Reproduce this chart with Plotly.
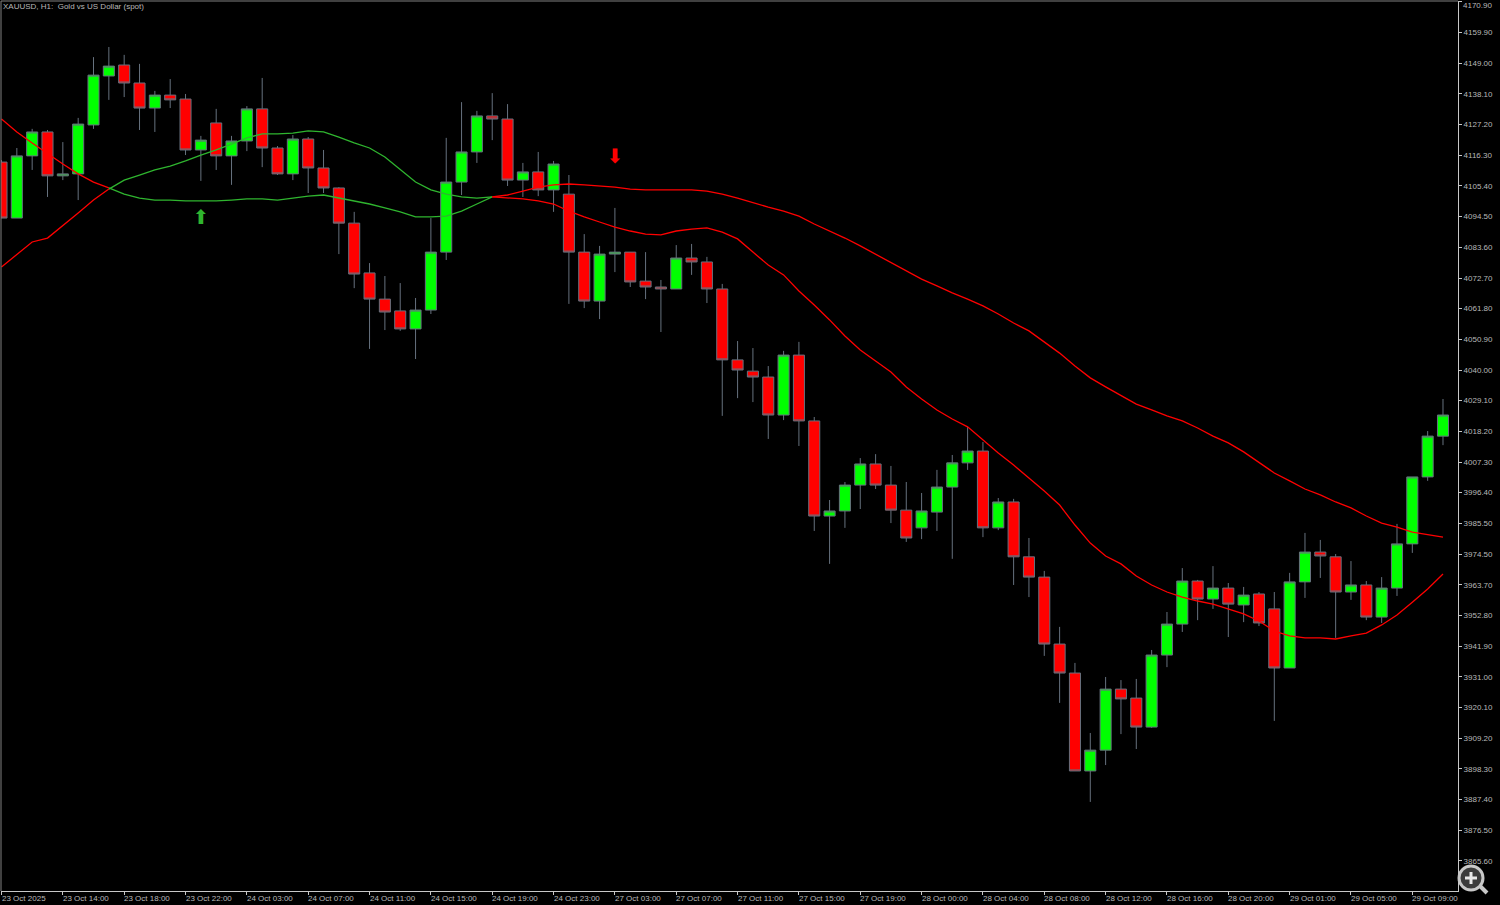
import plotly.graph_objects as go

candle_index = list(range(95))
open_ = [4113.9,4094.0,4116.1,4124.6,4109.0,4109.7,4127.1,4144.5,4148.4,4142.0,4133.1,4137.7,4136.3,4118.2,4127.8,4116.1,4121.4,4132.8,4118.9,4109.7,
4122.1,4111.8,4104.7,4092.2,4074.5,4065.2,4061.0,4054.6,4061.3,4081.9,4106.8,4117.5,4130.3,4129.2,4107.5,4110.4,4104.0,4102.5,4081.9,4064.5,
4081.2,4081.9,4071.6,4069.5,4068.8,4079.8,4078.4,4068.8,4043.6,4039.6,4037.5,4024.0,4045.3,4021.9,3988.1,3989.9,3999.1,4006.6,3999.1,3990.2,
3983.9,3989.5,3998.4,4007.0,4011.2,3983.9,3993.1,3973.6,3966.4,3942.6,3932.3,3897.5,3904.9,3926.6,3923.4,3913.1,3938.7,3949.7,3965.0,3958.6,
3962.5,3956.5,3960.4,3955.1,3934.1,3964.7,3975.3,3973.6,3961.1,3963.6,3952.2,3962.5,3978.2,4002.0,4016.5]
high = [4114.6,4118.9,4125.7,4125.3,4121.0,4129.6,4151.2,4154.8,4152.0,4148.8,4139.2,4143.4,4138.1,4123.2,4132.8,4123.2,4133.8,4143.8,4119.6,4123.5,
4122.8,4118.2,4105.0,4096.2,4078.0,4073.4,4070.9,4065.6,4094.0,4122.5,4135.2,4132.1,4138.4,4134.5,4113.6,4117.5,4114.3,4109.3,4088.3,4084.1,
4097.6,4081.9,4081.9,4072.0,4084.4,4084.8,4080.2,4070.6,4050.3,4047.8,4041.4,4046.8,4050.0,4023.3,3993.8,4000.2,4008.7,4010.1,4005.9,4000.2,
3996.3,4004.5,4009.8,4019.8,4014.4,3994.5,3994.2,3980.3,3968.6,3948.7,3935.9,3911.0,3930.9,3929.8,3930.2,3940.5,3954.0,3969.6,3965.4,3970.3,
3964.3,3962.9,3961.1,3961.1,3967.9,3982.1,3979.6,3974.6,3972.1,3965.0,3966.4,3985.3,4002.0,4018.3,4029.7]
low = [4094.0,4094.0,4111.1,4101.5,4107.5,4100.4,4125.7,4136.0,4137.0,4125.3,4124.6,4133.1,4116.4,4107.2,4111.1,4105.8,4117.8,4112.1,4109.3,4107.5,
4102.9,4102.9,4081.2,4069.1,4047.5,4054.2,4053.9,4043.9,4059.9,4079.1,4102.2,4113.6,4121.7,4105.4,4101.5,4101.8,4096.2,4063.5,4062.0,4058.1,
4074.8,4069.5,4065.2,4053.5,4068.8,4073.8,4063.8,4023.7,4030.0,4028.6,4015.5,4022.2,4013.0,3982.8,3971.1,3983.9,3990.6,3997.7,3985.6,3978.9,
3979.9,3982.8,3972.9,4004.5,3980.6,3983.1,3963.6,3959.3,3938.4,3921.7,3897.5,3886.5,3899.6,3910.6,3905.3,3912.8,3934.4,3946.9,3951.1,3955.1,
3945.1,3950.4,3949.0,3915.3,3934.1,3959.0,3966.1,3944.8,3958.3,3951.1,3950.1,3959.7,3975.0,4000.6,4013.3]
close = [4094.0,4116.1,4124.6,4109.0,4109.7,4127.4,4144.8,4148.0,4142.0,4133.1,4137.7,4136.0,4118.2,4121.7,4116.1,4121.4,4132.8,4118.9,4109.7,4122.1,
4111.8,4104.7,4092.2,4074.1,4065.2,4060.6,4054.6,4061.3,4081.9,4106.8,4117.5,4130.3,4129.2,4107.5,4110.4,4104.0,4113.2,4081.9,4064.5,4081.2,
4081.9,4071.3,4069.5,4068.8,4079.8,4078.4,4068.8,4043.6,4040.0,4037.5,4024.0,4045.3,4021.9,3988.1,3989.9,3999.1,4006.6,3999.1,3990.2,3980.3,
3989.9,3998.4,4007.0,4011.2,3983.9,3993.1,3973.6,3966.4,3942.6,3932.3,3897.5,3904.9,3926.6,3923.1,3913.1,3938.7,3949.7,3965.0,3958.6,3962.5,
3956.8,3960.0,3950.1,3934.1,3964.7,3975.3,3973.9,3961.1,3963.6,3952.2,3962.5,3978.2,4002.0,4016.5,4024.0]

ma_a = [4129.2,4124.6,4120.7,4116.8,4113.2,4109.7,4106.8,4104.7,4102.5,4101.1,4100.4,4100.4,4100.1,4100.1,4100.1,4100.4,4100.8,4100.8,4100.4,4101.1,
4101.8,4102.2,4101.1,4100.1,4099.0,4097.6,4096.2,4094.4,4094.4,4094.7,4096.5,4099.0,4101.5,4102.2,4103.6,4105.0,4105.8,4106.1,4105.8,4105.4,
4105.0,4104.3,4104.0,4104.0,4104.0,4104.0,4103.6,4102.5,4101.1,4099.4,4097.9,4096.5,4094.7,4091.9,4089.4,4086.9,4084.1,4081.2,4078.4,4075.2,
4072.3,4069.9,4067.4,4065.2,4062.8,4059.9,4056.7,4053.9,4050.0,4046.0,4041.4,4037.2,4034.0,4030.8,4027.9,4025.8,4023.7,4021.9,4019.4,4016.5,
4014.1,4010.9,4007.0,4003.4,4000.6,3997.7,3995.6,3993.1,3991.0,3988.1,3985.6,3984.2,3982.4,3981.4,3980.6]
ma_b = [4076.6,4080.9,4085.5,4086.9,4091.2,4095.8,4100.4,4104.3,4107.5,4109.3,4111.1,4112.5,4114.3,4116.4,4118.2,4120.3,4122.5,4123.9,4123.9,4124.2,
4125.0,4124.6,4122.8,4120.7,4118.9,4115.7,4111.1,4106.8,4104.0,4102.5,4101.5,4101.1,4101.5,4101.1,4100.8,4100.1,4099.0,4096.5,4094.4,4092.6,
4090.8,4089.4,4088.3,4088.0,4089.4,4090.1,4090.5,4089.0,4086.6,4081.9,4077.3,4073.8,4068.1,4063.1,4057.8,4052.1,4047.1,4043.2,4039.3,4034.0,
4029.7,4025.8,4022.6,4019.8,4015.1,4010.5,4006.2,4001.6,3997.0,3992.0,3984.9,3978.5,3973.9,3971.1,3966.8,3963.6,3961.1,3959.3,3957.9,3956.8,
3955.1,3953.3,3950.8,3947.2,3945.5,3944.8,3944.8,3944.4,3945.5,3946.5,3949.4,3952.9,3957.5,3962.2,3967.5]

green_start, green_end = 7, 32

price_ticks = [4170.9,4159.9,4149.0,4138.1,4127.2,4116.3,4105.4,4094.5,4083.6,4072.7,4061.8,4050.9,4040.0,4029.1,4018.2,4007.3,
3996.4,3985.5,3974.5,3963.7,3952.8,3941.9,3931.0,3920.1,3909.2,3898.3,3887.4,3876.5,3865.6]
time_labels = ["23 Oct 2025","23 Oct 14:00","23 Oct 18:00","23 Oct 22:00","24 Oct 03:00","24 Oct 07:00","24 Oct 11:00","24 Oct 15:00",
"24 Oct 19:00","24 Oct 23:00","27 Oct 03:00","27 Oct 07:00","27 Oct 11:00","27 Oct 15:00","27 Oct 19:00","28 Oct 00:00",
"28 Oct 04:00","28 Oct 08:00","28 Oct 12:00","28 Oct 16:00","28 Oct 20:00","29 Oct 01:00","29 Oct 05:00","29 Oct 09:00"]
time_ticks = list(range(0, 95, 4))

signal_up = (13, 4093.7)
signal_down = (40, 4115.2)
title = "XAUUSD, H1:  Gold vs US Dollar (spot)"

assert all(len(a) == 95 for a in (open_, high, low, close, ma_a, ma_b))

W, H = 1500, 905
L, R, T, B = 1, 1458, 1, 891
FONT = "Liberation Sans"
TXT = "#b8b8b8"
RED, GREEN = "#ff0000", "#2fb52f"
WICK = "#66717e"

def px(x): return (x - L) / (R - L)
def py(y): return (B - y) / (B - T)

fig = go.Figure()
fig.add_trace(go.Candlestick(
    x=candle_index, open=open_, high=high, low=low, close=close,
    increasing=dict(line=dict(color=WICK, width=1), fillcolor="#00ff00"),
    decreasing=dict(line=dict(color=WICK, width=1), fillcolor="#ff0000"),
    whiskerwidth=0, showlegend=False, hoverinfo="skip"))

for series in (ma_a, ma_b):
    for a, b, col in ((0, green_start, RED), (green_start, green_end, GREEN), (green_end, 94, RED)):
        fig.add_trace(go.Scatter(x=candle_index[a:b + 1], y=series[a:b + 1], mode="lines",
                                 line=dict(color=col, width=1.3), showlegend=False, hoverinfo="skip"))

for (sx, sy), glyph, col in ((signal_up, "⬆", GREEN), (signal_down, "⬇", RED)):
    fig.add_trace(go.Scatter(x=[sx], y=[sy], mode="text", text=[glyph], textposition="middle center",
                             textfont=dict(family="DejaVu Sans", size=20, color=col),
                             showlegend=False, hoverinfo="skip"))

annotations = [dict(text=title, xref="paper", yref="paper", x=px(1), y=py(6.5), xanchor="left", yanchor="middle",
                    showarrow=False, font=dict(family=FONT, size=8, color=TXT)),
               dict(text=f"{price_ticks[0]:.2f}", xref="paper", yref="y", x=px(1461), y=price_ticks[0], yshift=-4,
                    xanchor="left", yanchor="middle", showarrow=False, font=dict(family=FONT, size=8, color=TXT))]
for tk, lab in zip(time_ticks, time_labels):
    annotations.append(dict(text=lab, xref="x", yref="paper", x=tk, xshift=-2, y=py(898), xanchor="left", yanchor="middle",
                            showarrow=False, font=dict(family=FONT, size=8, color=TXT)))

shapes = [
    dict(type="line", xref="paper", yref="paper", x0=px(1), x1=px(1), y0=py(1), y1=py(891), line=dict(color="#808080", width=1)),
    dict(type="line", xref="paper", yref="paper", x0=px(1), x1=px(1458), y0=py(1), y1=py(1), line=dict(color="#808080", width=1)),
    dict(type="line", xref="paper", yref="paper", x0=px(1480), x1=px(1487), y0=py(886), y1=py(893), line=dict(color="#c8c8c8", width=4)),
    dict(type="circle", xref="paper", yref="paper", x0=px(1459), x1=px(1483), y0=py(890), y1=py(866),
         fillcolor="#3c3c3c", line=dict(color="#c8c8c8", width=3)),
    dict(type="line", xref="paper", yref="paper", x0=px(1465), x1=px(1477), y0=py(878), y1=py(878), line=dict(color="#e8e8e8", width=3)),
    dict(type="line", xref="paper", yref="paper", x0=px(1471), x1=px(1471), y0=py(872), y1=py(884), line=dict(color="#e8e8e8", width=3)),
]

step = 15.335
x0px = 1.5
fig.update_layout(
    width=W, height=H, paper_bgcolor="#000000", plot_bgcolor="#000000",
    margin=dict(l=L, r=W - R, t=T, b=H - B, pad=0), boxgap=0.28, boxgroupgap=0, showlegend=False,
    annotations=annotations, shapes=shapes,
    xaxis=dict(range=[(L - x0px) / step, (R - x0px) / step], rangeslider=dict(visible=False), showgrid=False, zeroline=False,
               tickmode="array", tickvals=time_ticks, showticklabels=False, ticks="outside", ticklen=3, tickcolor="#c8c8c8",
               showline=True, linecolor="#c8c8c8", linewidth=1),
    yaxis=dict(side="right", range=[4171.5 - 0.3554 * B, 4171.5 - 0.3554 * T], showgrid=False, zeroline=False,
               tickmode="array", tickvals=price_ticks, ticktext=[f"{v:.2f}" for v in price_ticks],
               tickfont=dict(family=FONT, size=8, color=TXT), ticks="outside", ticklen=3, tickcolor="#c8c8c8",
               showline=True, linecolor="#c8c8c8", linewidth=1),
)

fig.write_html("out.html", config=dict(displayModeBar=False),
               post_script="document.body.style.margin='0';document.body.style.background='#000';")
